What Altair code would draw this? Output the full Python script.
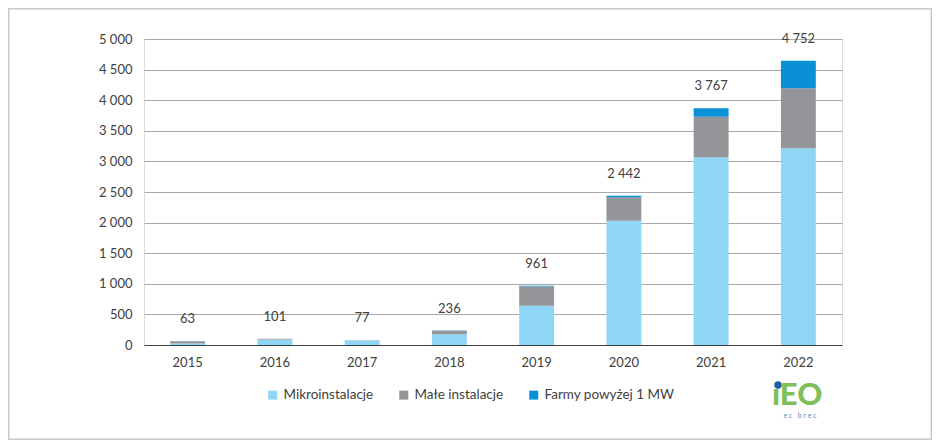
import altair as alt
import pandas as pd

years = ["2015", "2016", "2017", "2018", "2019", "2020", "2021", "2022"]
micro = [25, 90, 72, 175, 642, 2031, 3067, 3214]
small = [38, 13, 5, 59, 315, 382, 663, 980]
farms = [0, 0, 0, 2, 12, 27, 138, 451]
total_labels = [63, 101, 77, 236, 961, 2442, 3767, 4752]
series_names = ["Mikroinstalacje", "Małe instalacje", "Farmy powyżej 1 MW"]
series_colors = ["#8fd5f6", "#939598", "#0a90d6"]
y_ticks = [0, 500, 1000, 1500, 2000, 2500, 3000, 3500, 4000, 4500, 5000]

FONT = "Lato"
TXT = "#404040"

rows = []
for i, yr in enumerate(years):
    for k, vals in enumerate([micro, small, farms]):
        rows.append({"year": yr, "series": series_names[k], "value": vals[i], "ord": k})
df = pd.DataFrame(rows)

df_tot = pd.DataFrame({
    "year": years,
    "total": [m + s + f for m, s, f in zip(micro, small, farms)],
    "label": total_labels,
})

x_enc = alt.X(
    "year:N", sort=years,
    scale=alt.Scale(paddingInner=0.6, paddingOuter=0.3),
    axis=alt.Axis(title=None, labelAngle=0, ticks=False, grid=False,
                  domainColor="#404040", domainWidth=1,
                  labelPadding=11, labelFontSize=13, labelColor=TXT, labelFont=FONT),
)

bars = alt.Chart(df).mark_bar().encode(
    x=x_enc,
    y=alt.Y(
        "value:Q", stack="zero",
        scale=alt.Scale(domain=[0, 5000], nice=False),
        axis=alt.Axis(title=None, values=y_ticks, tickCount=11, ticks=False, domain=False,
                      labelOverlap=False,
                      gridColor="#a8a8a8", gridWidth=1,
                      labelExpr="replace(format(datum.value, ','), ',', ' ')",
                      labelPadding=12, labelFontSize=13, labelColor=TXT, labelFont=FONT),
    ),
    color=alt.Color(
        "series:N",
        scale=alt.Scale(domain=series_names, range=series_colors),
        legend=alt.Legend(
            title=None, orient="none", legendX=122, legendY=349,
            direction="horizontal", symbolType="square", symbolSize=81,
            symbolStrokeWidth=0, labelFontSize=13.5, labelFont=FONT,
            labelColor=TXT, labelOffset=4, columnPadding=23, padding=0,
        ),
    ),
    order=alt.Order("ord:Q"),
)

labels = alt.Chart(df_tot).transform_calculate(
    lab="replace(format(datum.label, ','), ',', ' ')"
).mark_text(dy=-22, fontSize=13, font=FONT, color=TXT, baseline="middle").encode(
    x=alt.X("year:N", sort=years),
    y=alt.Y("total:Q"),
    text="lab:N",
)

NB = "\u00a0"
deco = pd.DataFrame({"logo": ["ıEO"], "sub": [NB.join(["e", "c", NB, "b", "r", "e", "c"])]})

frame = alt.Chart(deco).mark_rect(filled=False, stroke="#c8c8c8", strokeWidth=1.5).encode(
    x=alt.value(-135.25), x2=alt.value(787.25), y=alt.value(-30.25), y2=alt.value(400.25)
)
logo = alt.Chart(deco).mark_text(
    fontSize=31, fontWeight=900, font=FONT, color="#7ebf5b", align="left", baseline="alphabetic"
).encode(x=alt.value(628), y=alt.value(366), text="logo:N")
logo_dot = alt.Chart(deco).mark_point(filled=True, shape="circle", size=56, color="#1a5fa8", opacity=1).encode(
    x=alt.value(634), y=alt.value(346)
)
logo_sub = alt.Chart(deco).mark_text(
    fontSize=7, font=FONT, color="#5f86a8", align="center", baseline="middle"
).encode(x=alt.value(656), y=alt.value(377), text="sub:N")

chart = alt.layer(bars, labels, frame, logo, logo_dot, logo_sub).properties(
    width=698, height=306,
    autosize=alt.AutoSizeParams(type="none"),
    padding={"left": 136, "top": 31, "right": 90, "bottom": 95},
).configure_view(stroke=None).configure(font=FONT)

chart.save("out.html", embed_options={"renderer": "svg", "actions": False})
